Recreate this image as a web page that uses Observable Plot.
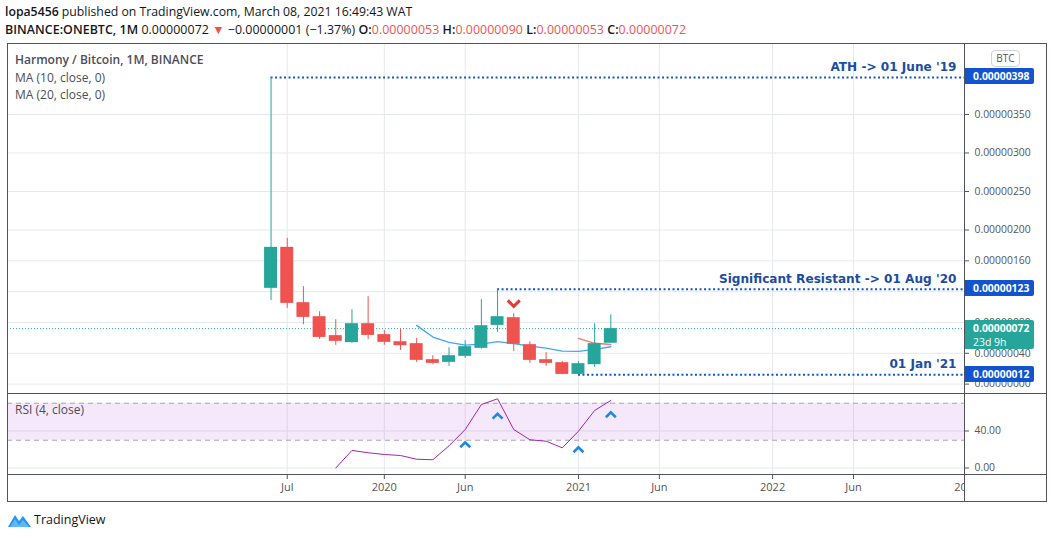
<!DOCTYPE html>
<html><head><meta charset="utf-8">
<script src="https://cdn.jsdelivr.net/npm/d3@7"></script>
<script src="https://cdn.jsdelivr.net/npm/@observablehq/plot@0.6"></script>
<style>
body{margin:0;background:#fff;font-family:"Open Sans",sans-serif;}
#wrap{position:relative;width:1053px;height:538px;overflow:hidden;background:#fff;}
.abs{position:absolute;}
.hdr{left:5px;top:3px;font-size:12.25px;line-height:18px;color:#131722;white-space:nowrap;}
.hdr b{font-weight:600;}
.l2{font-size:12.4px;letter-spacing:0.05px;}
.r{color:#ef5350;}
.leg{left:15px;font-size:12px;color:#4a4e59;white-space:nowrap;line-height:16px;}
.box{left:964px;width:70px;color:#fff;font-size:10.4px;font-weight:700;padding-left:9px;box-sizing:border-box;border-radius:0 2px 2px 0;}
.ln{background:#50535e;}
</style></head><body><div id="wrap"></div>
<script>
// ---- data (price values in satoshi, 1e-8 BTC) ----
const months = ["2019-06","2019-07","2019-08","2019-09","2019-10","2019-11","2019-12","2020-01","2020-02","2020-03","2020-04","2020-05","2020-06","2020-07","2020-08","2020-09","2020-10","2020-11","2020-12","2021-01","2021-02","2021-03"];
const open  = [124.3,177.5,105.7,87.5,62.9,53.8,78.4,64.2,55.0,52.5,31.7,28.2,36.0,46.4,76.2,86.2,51.2,31.7,27.8,12.6,25.2,53];
const high  = [398,189.2,126.5,94.0,83.6,96.6,113.5,69.4,71.6,59.4,36.9,47.3,56.4,109.6,123,91.4,55.0,40.8,29.1,29.1,78.4,90];
const low   = [108.3,98.3,77.1,58.0,50.3,53.0,58.0,50.3,43.8,28.2,25.2,23.0,33.4,45.5,67.1,42.5,26.9,23.0,12.2,12,21.7,53];
const close = [177.5,104.8,86.6,60.6,55.5,78.4,63.2,54.2,49.9,30.8,26.9,36.9,48.6,75.8,87.5,51.6,30.8,26.9,12.6,26.5,52.5,72];
const ma10  = [null,null,null,null,null,null,null,null,null,76.2,61.1,54.3,50.5,52.0,55.2,52.5,49.3,46.6,42.8,42.4,45.0,48.5];
const ma20  = [null,null,null,null,null,null,null,null,null,null,null,null,null,null,null,null,null,null,null,59.3,53.0,51.4];
const rsi4  = [null,null,null,null,0,19,16.5,14.6,13.5,9.5,8.9,24,41.6,68.6,74.8,41.6,30.5,29,21.8,39.8,62.2,73];
const priceTicks = [0,40,80,120,160,200,250,300,350];
const hiddenPriceLabels = [120];
const rsiTicks = [0,40];
const rsiBand = [30,70];
const monthTickIdx = [1,7,12,19,24,31,36,43];
const monthTickLabels = ["Jul","2020","Jun","2021","Jun","2022","Jun","2023"];
const annotations = [
  {v:398, start:0, label:"ATH -> 01 June '19"},
  {v:123, start:14, label:"Significant Resistant -> 01 Aug '20"},
  {v:12, start:19, label:"01 Jan '21"}
];
const upSignals = [{i:12, v:25.1},{i:14, v:56},{i:19, v:19.7},{i:21, v:57.5}];
const downSignals = [{i:15, v:104.8}];

const GREEN = "#26a69a", RED = "#ef5350", GRID = "#e4e9ef", BLUE = "#1254cf", ANNO = "#1c4da1";
const xDomain = [-16.29, 42.86];
const W = 1053, FR = 964, FL = 7;
const fmtP = v => (v/1e8).toFixed(8);

const bars = months.map((m,i)=>({i, m, o:open[i], h:high[i], l:low[i], c:close[i]}));
const colorOf = d => d.c >= d.o ? GREEN : RED;
const gridX = monthTickIdx.filter(i => i <= xDomain[1]);

const chevUp = {draw(ctx, size){ const s = Math.sqrt(size); ctx.moveTo(-s/2, s/4); ctx.lineTo(0, -s/4); ctx.lineTo(s/2, s/4); }};
const chevDown = {draw(ctx, size){ const s = Math.sqrt(size); ctx.moveTo(-s/2, -s/4); ctx.lineTo(0, s/4); ctx.lineTo(s/2, -s/4); }};

const wrap = document.getElementById("wrap");
function place(node, top, left){ node.style.position="absolute"; node.style.top=top+"px"; node.style.left=(left||0)+"px"; wrap.appendChild(node); return node; }

// ---- price pane ----
const pricePlot = Plot.plot({
  width: W, height: 350, marginLeft: FL, marginRight: W-FR, marginTop: 0, marginBottom: 0,
  style: {background:"transparent", overflow:"visible", fontFamily:"Open Sans", fontSize:"10.4px", color:"#555"},
  x: {domain: xDomain, axis: null},
  y: {domain: [-12.2, 442.1], axis: "right", ticks: priceTicks, tickFormat: v => hiddenPriceLabels.includes(v) ? "" : fmtP(v), tickSize: 4, tickPadding: 6, label: null},
  color: {type: "identity"},
  marks: [
    Plot.ruleY(priceTicks, {stroke: GRID}),
    Plot.ruleX(gridX, {stroke: GRID}),
    Plot.ruleY([close[close.length-1]], {stroke: GREEN, strokeDasharray: "1,2"}),
    Plot.ruleY(annotations, {y:"v", x1:"start", x2: () => xDomain[1], stroke: BLUE, strokeWidth: 2, strokeDasharray: "2,2.5"}),
    Plot.line(bars.filter((d,i)=>ma10[i]!=null), {x:"i", y: d => ma10[d.i], stroke:"#42a5f5", strokeWidth:1.3}),
    Plot.line(bars.filter((d,i)=>ma20[i]!=null), {x:"i", y: d => ma20[d.i], stroke:"#ef5350", strokeOpacity:0.8, strokeWidth:1.3}),
    Plot.ruleX(bars, {x:"i", y1:"l", y2:"h", stroke: colorOf}),
    Plot.rect(bars, {x1: d => d.i-0.4, x2: d => d.i+0.4, y1: d => Math.min(d.o,d.c), y2: d => Math.max(d.o,d.c) , fill: colorOf}),
    Plot.dot(downSignals, {x:"i", y:"v", symbol: chevDown, r: 6.8, stroke:"#e53935", fill:"none", strokeWidth: 3}),
    Plot.text(annotations, {y:"v", text:"label", frameAnchor:"right", textAnchor:"end", dx:-8, dy:-10.5, fill: ANNO, fontWeight:"bold", fontSize: 12.1, fontFamily:"DejaVu Sans"})
  ]
});
place(pricePlot, 43);

// ---- RSI pane ----
const rsiPlot = Plot.plot({
  width: W, height: 81, marginLeft: FL, marginRight: W-FR, marginTop: 0, marginBottom: 0,
  style: {background:"transparent", overflow:"visible", fontFamily:"Open Sans", fontSize:"10.4px", color:"#555"},
  x: {domain: xDomain, axis: null},
  y: {domain: [-7.03, 80.54], axis: "right", ticks: rsiTicks, tickFormat: d => d.toFixed(2), tickSize: 4, tickPadding: 6, label: null},
  marks: [
    Plot.ruleY(rsiTicks, {stroke: GRID}),
    Plot.ruleX(gridX, {stroke: GRID}),
    Plot.rect([rsiBand], {y1: d => d[0], y2: d => d[1], fill: "#b040d8", fillOpacity: 0.12}),
    Plot.ruleY(rsiBand, {stroke: "#aaa3b4", strokeDasharray: "5,4"}),
    Plot.line(bars.filter((d,i)=>rsi4[i]!=null), {x:"i", y: d => rsi4[d.i], stroke:"#9c27b0", strokeWidth:1}),
    Plot.dot(upSignals, {x:"i", y:"v", symbol: chevUp, r: 5.6, stroke:"#1e88e5", fill:"none", strokeWidth: 2.6})
  ]
});
place(rsiPlot, 393);

// ---- time axis ----
const xPlot = Plot.plot({
  width: FR, height: 27, marginLeft: FL, marginRight: 0, marginTop: 0, marginBottom: 26,
  style: {background:"transparent", fontFamily:"Open Sans", fontSize:"11px", color:"#555"},
  x: {domain: xDomain, axis: "bottom", ticks: monthTickIdx, tickFormat: i => monthTickLabels[monthTickIdx.indexOf(i)], tickSize: 4, tickPadding: 4, label: null},
  marks: [Plot.ruleX(monthTickIdx, {stroke: "none"})]
});
place(xPlot, 474);

// ---- price labels on the right axis ----
const ys = v => 43 + pricePlot.scale("y").apply(v);
function box(v, html, bg, h){
  const d = document.createElement("div");
  d.className = "box"; d.innerHTML = html; d.style.background = bg; d.style.height = h + "px";
  d.style.lineHeight = "15px";
  place(d, ys(v) - 8.5, 964);
  return d;
}
annotations.forEach(a => { const b = box(a.v, fmtP(a.v), BLUE, 16); b.style.paddingTop="1px"; });
const cur = box(close[close.length-1], fmtP(close[close.length-1]) + '<br><span style="font-weight:400">23d 9h</span>', GREEN, 29);
cur.style.lineHeight = "14px"; cur.style.paddingTop = "1px";

// ---- header ----
const hdr = document.createElement("div");
hdr.className = "hdr abs";
hdr.innerHTML = '<b>lopa5456</b> published on TradingView.com, March 08, 2021 16:49:43 WAT<br><span class="l2">' +
  '<b>BINANCE:ONEBTC, 1M</b> ' + fmtP(close[21]) + ' <span class="r">▼</span> −0.00000001 (−1.37%) ' +
  '<b>O:</b><span class="r">' + fmtP(open[21]) + '</span> <b>H:</b><span class="r">' + fmtP(high[21]) +
  '</span> <b>L:</b><span class="r">' + fmtP(low[21]) + '</span> <b>C:</b><span class="r">' + fmtP(close[21]) + '</span></span>';
wrap.appendChild(hdr);

// ---- legends ----
[["Harmony / Bitcoin, 1M, BINANCE", 52, 600], ["MA (10, close, 0)", 69.5, 400], ["MA (20, close, 0)", 87, 400], ["RSI (4, close)", 402, 400]].forEach(([t, top, w]) => {
  const d = document.createElement("div"); d.className = "leg"; d.textContent = t; d.style.fontWeight = w; place(d, top, 15);
});
const btc = document.createElement("div");
btc.textContent = "BTC";
btc.style.cssText = "width:27px;height:15px;border:1px solid #cfd2d8;border-radius:4px;font-size:10px;color:#555;text-align:center;line-height:15px;box-sizing:content-box;";
place(btc, 50, 991);

// ---- frame lines ----
function line(l, t, w, h){ const d = document.createElement("div"); d.className = "ln"; d.style.width = w+"px"; d.style.height = h+"px"; place(d, t, l); }
line(7, 43, 1040, 1); line(7, 501, 1040, 1); line(7, 43, 1, 459); line(1046, 43, 1, 459);
line(7, 393, 1040, 1); line(7, 474, 1040, 1); line(964, 43, 1, 459);

// ---- footer logo ----
const logo = document.createElement("div");
logo.innerHTML = '<svg width="26" height="18" viewBox="0 0 26 18"><path d="M1 16 L8 4 L12 10 L16 5 L24 16 Z" fill="#2196f3"/><path d="M3 16 L8 8 L12 14 L16 9 L22 16" fill="#64b5f6"/></svg>' +
  '<span style="position:absolute;left:27px;top:0px;font-size:12.5px;color:#131722;">TradingView</span>';
logo.style.width = "110px"; logo.style.height = "20px";
place(logo, 511, 7);
</script></body></html>
